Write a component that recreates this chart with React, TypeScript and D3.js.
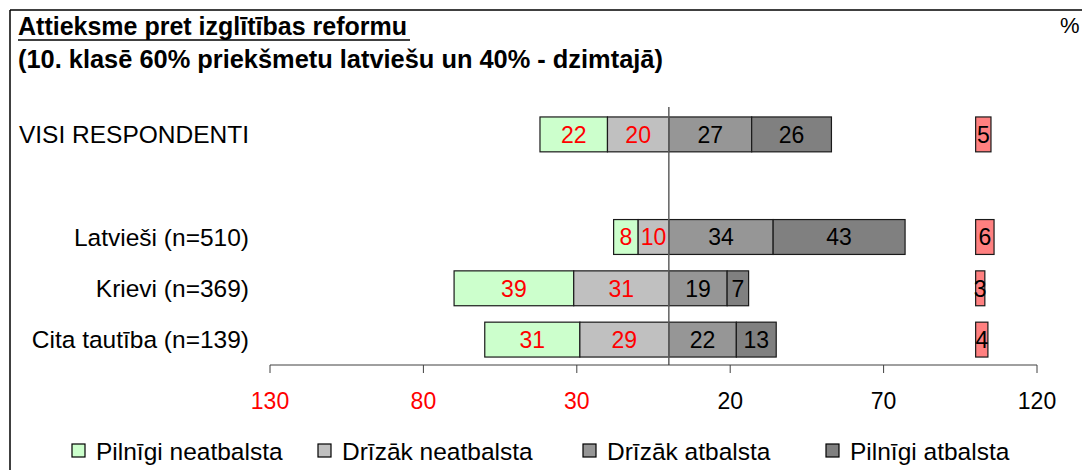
import React from "react";
import { scaleLinear, scaleBand } from "d3";

// rows (the empty one is a spacer row in the original)
const categories = [
  "VISI RESPONDENTI",
  "",
  "Latvieši (n=510)",
  "Krievi (n=369)",
  "Cita tautība (n=139)",
];
const pilnigiNeatbalsta = [22, null, 8, 39, 31];
const drizakNeatbalsta = [20, null, 10, 31, 29];
const drizakAtbalsta = [27, null, 34, 19, 22];
const pilnigiAtbalsta = [26, null, 43, 7, 13];
const grutiPateikt = [5, null, 6, 3, 4];

const tickValues = [-130, -80, -30, 20, 70, 120];
const grutiStart = 100;

const legendLabels = [
  "Pilnīgi neatbalsta",
  "Drīzāk neatbalsta",
  "Drīzāk atbalsta",
  "Pilnīgi atbalsta",
];
const segColors = ["#ccffcc", "#c0c0c0", "#969696", "#808080"];
const grutiColor = "#ff8080";

const W = 1082;
const H = 470;
const FONT = "'Liberation Sans', Arial, sans-serif";

const App: React.FC = () => {
  const x = scaleLinear().domain([-130, 120]).range([270, 1037]);
  const y = scaleBand<number>()
    .domain(categories.map((_, i) => i))
    .range([108.75, 365.25])
    .paddingInner(0.32)
    .paddingOuter(0.16);
  const bw = y.bandwidth();
  const axisY = 365;

  const rows = categories.map((cat, i) => {
    const a = pilnigiNeatbalsta[i];
    const b = drizakNeatbalsta[i];
    const c = drizakAtbalsta[i];
    const d = pilnigiAtbalsta[i];
    if (a == null || b == null || c == null || d == null) return null;
    // stack outward from zero: negatives to the left, positives to the right
    const segs = [
      { x0: -(a + b), x1: -b, v: a, neg: true, color: segColors[0] },
      { x0: -b, x1: 0, v: b, neg: true, color: segColors[1] },
      { x0: 0, x1: c, v: c, neg: false, color: segColors[2] },
      { x0: c, x1: c + d, v: d, neg: false, color: segColors[3] },
    ];
    return { cat, i, segs, g: grutiPateikt[i] as number };
  });

  const legendX = [72, 318, 583, 826];

  return (
    <svg
      width={W}
      height={H}
      style={{ position: "absolute", left: 0, top: 0, background: "#fff" }}
      fontFamily={FONT}
    >
      <rect width={W} height={H} fill="#fff" />
      {/* frame */}
      <line x1={10} x2={W} y1={10} y2={10} stroke="#000" strokeWidth={1.5} />
      <line x1={10} x2={10} y1={10} y2={H} stroke="#000" strokeWidth={1.5} />

      <text x={18} y={35} fontSize={25} fontWeight="bold" fill="#000">
        Attieksme pret izglītības reformu
      </text>
      <line x1={18} x2={410} y1={40} y2={40} stroke="#000" strokeWidth={1.5} />
      <text x={18} y={68} fontSize={25.4} fontWeight="bold" fill="#000">
        (10. klasē 60% priekšmetu latviešu un 40% - dzimtajā)
      </text>
      <text x={1060} y={33} fontSize={22} fill="#000">
        %
      </text>

      {/* category labels */}
      {categories.map((c, i) => (
        <text
          key={i}
          x={249}
          y={(y(i) as number) + bw / 2}
          dy="0.36em"
          fontSize={24.5}
          textAnchor="end"
          fill="#000"
        >
          {c}
        </text>
      ))}

      {/* bars */}
      {rows.map((r) =>
        r ? (
          <g key={r.i}>
            {r.segs.map((s, k) => (
              <g key={k}>
                <rect
                  x={x(s.x0)}
                  y={y(r.i)}
                  width={x(s.x1) - x(s.x0)}
                  height={bw}
                  fill={s.color}
                  stroke="#1a1a1a"
                  strokeWidth={1.2}
                />
                <text
                  x={(x(s.x0) + x(s.x1)) / 2}
                  y={(y(r.i) as number) + bw / 2}
                  dy="0.36em"
                  fontSize={23}
                  textAnchor="middle"
                  fill={s.neg ? "#ff0000" : "#000"}
                >
                  {s.v}
                </text>
              </g>
            ))}
            <rect
              x={x(grutiStart)}
              y={y(r.i)}
              width={x(grutiStart + r.g) - x(grutiStart)}
              height={bw}
              fill={grutiColor}
              stroke="#1a1a1a"
              strokeWidth={1.2}
            />
            <text
              x={(x(grutiStart) + x(grutiStart + r.g)) / 2}
              y={(y(r.i) as number) + bw / 2}
              dy="0.36em"
              fontSize={23}
              textAnchor="middle"
              fill="#000"
            >
              {r.g}
            </text>
          </g>
        ) : null
      )}

      {/* zero line */}
      <line
        x1={x(0)}
        x2={x(0)}
        y1={107}
        y2={axisY}
        stroke="#606060"
        strokeWidth={1.5}
      />

      {/* x axis */}
      <line
        x1={x(-130)}
        x2={x(120)}
        y1={axisY}
        y2={axisY}
        stroke="#404040"
        strokeWidth={1}
      />
      {tickValues.map((t) => (
        <g key={t}>
          <line
            x1={x(t)}
            x2={x(t)}
            y1={axisY}
            y2={axisY + 8}
            stroke="#404040"
            strokeWidth={1}
          />
          <text
            x={x(t)}
            y={409}
            fontSize={23}
            textAnchor="middle"
            fill={t < 0 ? "#ff0000" : "#000"}
          >
            {Math.abs(t)}
          </text>
        </g>
      ))}

      {/* legend */}
      {legendLabels.map((l, k) => (
        <g key={l}>
          <rect
            x={legendX[k]}
            y={444}
            width={13}
            height={13}
            fill={segColors[k]}
            stroke="#000"
            strokeWidth={1.2}
          />
          <text x={legendX[k] + 24} y={460} fontSize={24.5} fill="#000">
            {l}
          </text>
        </g>
      ))}
    </svg>
  );
};

export default App;
